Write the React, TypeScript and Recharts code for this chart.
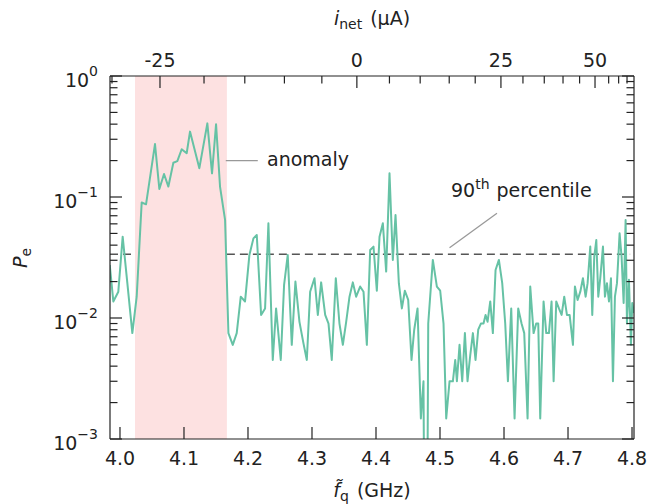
import {
  ComposedChart,
  Line,
  XAxis,
  YAxis,
  ReferenceArea,
  ReferenceLine,
} from "recharts";

// qubit frequency (GHz) and error probability
const freqGHz = [
  3.984, 3.9896, 3.9974, 4.0042, 4.0115, 4.0193, 4.0261, 4.0339, 4.0407, 4.0547,
  4.0615, 4.0688, 4.0756, 4.0834, 4.0896, 4.0964, 4.1042, 4.1094, 4.124, 4.1365,
  4.1438, 4.1501, 4.1563, 4.1642, 4.1694, 4.1762, 4.1824, 4.1887, 4.1954, 4.2022,
  4.2085, 4.2137, 4.2205, 4.2267, 4.2319, 4.2387, 4.2439, 4.2512, 4.2564, 4.2621,
  4.2684, 4.2741, 4.2804, 4.2866, 4.2919, 4.2971, 4.3039, 4.3091, 4.3143, 4.3206,
  4.3258, 4.3309, 4.3372, 4.3429, 4.3482, 4.3534, 4.3586, 4.3638, 4.369, 4.3752,
  4.3805, 4.3857, 4.3909, 4.3961, 4.4013, 4.4055, 4.4107, 4.4159, 4.4211, 4.4263,
  4.4305, 4.4357, 4.4404, 4.4451, 4.4503, 4.4555, 4.4597, 4.4649, 4.4701, 4.4742,
  4.478, 4.4816, 4.4888, 4.4951, 4.5003, 4.5055, 4.5097, 4.5149, 4.5201, 4.5238,
  4.5264, 4.5305, 4.5347, 4.5389, 4.543, 4.5472, 4.5514, 4.5555, 4.5597, 4.5639,
  4.568, 4.5712, 4.5743, 4.5785, 4.5826, 4.5868, 4.592, 4.5972, 4.6019, 4.6061,
  4.6113, 4.6165, 4.6222, 4.6274, 4.6316, 4.6368, 4.641, 4.6462, 4.6503, 4.6535,
  4.6566, 4.6618, 4.666, 4.6702, 4.6743, 4.6775, 4.6816, 4.6858, 4.69, 4.6941,
  4.6983, 4.7025, 4.7077, 4.7108, 4.715, 4.7192, 4.7233, 4.7275, 4.7306, 4.7348,
  4.7379, 4.741, 4.7442, 4.7473, 4.7504, 4.7546, 4.7577, 4.7608, 4.764, 4.7671,
  4.7702, 4.7733, 4.7765, 4.7806, 4.7837, 4.7869, 4.79, 4.7921, 4.7952, 4.7983,
  4.8004, 4.8031,
];

const pe = [
  0.0274, 0.0137, 0.0165, 0.047, 0.0194, 0.0075, 0.015, 0.09, 0.087, 0.274,
  0.1165, 0.155, 0.122, 0.192, 0.198, 0.248, 0.23, 0.347, 0.173, 0.406,
  0.157, 0.399, 0.122, 0.0646, 0.0075, 0.006, 0.0075, 0.015, 0.0137, 0.0332,
  0.0455, 0.0485, 0.0106, 0.012, 0.0606, 0.0045, 0.012, 0.0045, 0.0188, 0.0332,
  0.006, 0.02, 0.0093, 0.0062, 0.0045, 0.0165, 0.0213, 0.0106, 0.0197, 0.0106,
  0.009, 0.0045, 0.0213, 0.009, 0.006, 0.0093, 0.015, 0.0197, 0.015, 0.0182,
  0.0165, 0.006, 0.0365, 0.0389, 0.0168, 0.047, 0.0606, 0.0242, 0.157, 0.0302,
  0.071, 0.0194, 0.012, 0.0168, 0.0141, 0.0045, 0.008, 0.012, 0.00148, 0.003,
  0.000001, 0.009, 0.0302, 0.0182, 0.0168, 0.009, 0.00148, 0.003, 0.003, 0.0045,
  0.003, 0.006, 0.003, 0.0075, 0.003, 0.0049, 0.0075, 0.0045, 0.008, 0.009,
  0.009, 0.0106, 0.0093, 0.0137, 0.0075, 0.0249, 0.0302, 0.0194, 0.009, 0.003,
  0.012, 0.00148, 0.012, 0.009, 0.0075, 0.00148, 0.0182, 0.0075, 0.009, 0.009,
  0.00148, 0.0137, 0.0075, 0.0075, 0.0137, 0.003, 0.0137, 0.012, 0.0106, 0.015,
  0.0106, 0.0106, 0.006, 0.0182, 0.0141, 0.0165, 0.0213, 0.015, 0.0194, 0.0389,
  0.0106, 0.0321, 0.0441, 0.015, 0.0213, 0.0389, 0.015, 0.0194, 0.0137, 0.0213,
  0.003, 0.015, 0.0194, 0.0501, 0.0321, 0.0133, 0.0646, 0.009, 0.0207, 0.006,
  0.0133, 0.011,
];

const data = freqGHz.map((f, i) => ({ f, p: pe[i] }));

const xDomain = [3.9844, 4.8031];
const xTicks = [4.0, 4.1, 4.2, 4.3, 4.4, 4.5, 4.6, 4.7, 4.8];

// top axis: net current (uA) and where it lands in frequency
const topCurrents = [-30, -25, -20, -15, -10, -5, 0, 5, 10, 15, 20, 25, 30, 35, 40, 45, 50, 55, 60, 65];
const topFreqs = [
  3.9875, 4.0625, 4.1313, 4.195, 4.2569, 4.3154, 4.3701, 4.421, 4.469, 4.5144,
  4.555, 4.5952, 4.6296, 4.6629, 4.6922, 4.7181, 4.7422, 4.7635, 4.7791, 4.7922,
];
const topLabeled = [-25, 0, 25, 50];

const yDecades = [0.001, 0.01, 0.1, 1];
const yExponents = ["−3", "−2", "−1", "0"];
const yTicks: number[] = [];
yDecades.forEach((d, i) => {
  yTicks.push(d);
  if (i < yDecades.length - 1) for (let m = 2; m <= 9; m++) yTicks.push(d * m);
});

const threshold = 0.0336;
const anomalyBand = [4.0235, 4.167];

const ink = "#222";
const font = "DejaVu Sans";

function BottomTick(props: any) {
  const { x, y, payload } = props;
  return (
    <g>
      <line x1={x} x2={x} y1={y} y2={y - 12} stroke={ink} strokeWidth={1.2} />
      <text x={x} y={y + 19} textAnchor="middle" dominantBaseline="central" fontSize={19} fill={ink} fontFamily={font}>
        {payload.value.toFixed(1)}
      </text>
    </g>
  );
}

function TopTick(props: any) {
  const { x, y, payload } = props;
  const cur = topCurrents[topFreqs.indexOf(payload.value)];
  const major = topLabeled.includes(cur);
  return (
    <g>
      <line x1={x} x2={x} y1={y} y2={y + (major ? 12 : 7.5)} stroke={ink} strokeWidth={1.2} />
      {major && (
        <text x={x} y={y - 16} textAnchor="middle" dominantBaseline="central" fontSize={19} fill={ink} fontFamily={font}>
          {String(cur)}
        </text>
      )}
    </g>
  );
}

function LeftTick(props: any) {
  const { x, y, payload } = props;
  const k = yDecades.indexOf(payload.value);
  const major = k >= 0;
  return (
    <g>
      <line x1={x} x2={x + (major ? 12 : 7.5)} y1={y} y2={y} stroke={ink} strokeWidth={1.2} />
      {major && (
        <text x={x - 12} y={y + 4} textAnchor="end" dominantBaseline="central" fontSize={19} fill={ink} fontFamily={font}>
          10
          <tspan dy={-9} fontSize={14}>
            {yExponents[k]}
          </tspan>
        </text>
      )}
    </g>
  );
}

function RightTick(props: any) {
  const { x, y, payload } = props;
  const major = yDecades.indexOf(payload.value) >= 0;
  return <line x1={x} x2={x - (major ? 12 : 7.5)} y1={y} y2={y} stroke={ink} strokeWidth={1.2} />;
}

const textStyle: React.CSSProperties = {
  position: "absolute",
  whiteSpace: "nowrap",
  lineHeight: 1,
  fontSize: 19,
  color: ink,
  fontFamily: font,
};

export default function App() {
  const axisLine = { stroke: ink, strokeWidth: 1.2 };
  return (
    <div style={{ position: "relative", width: 641, height: 496, fontFamily: font }}>
      {/* drop the right body margin so the page box reaches the window's right edge */}
      <style>{"body { margin: 8px 0 0 8px; overflow: hidden; }"}</style>
      <ComposedChart width={641} height={496} data={data} margin={{ top: 0, right: 0, bottom: 0, left: 0 }}>
        <XAxis
          xAxisId="b"
          dataKey="f"
          type="number"
          domain={xDomain}
          allowDataOverflow
          ticks={xTicks}
          interval={0}
          height={65}
          tickSize={0}
          tickMargin={0}
          tickLine={false}
          axisLine={axisLine}
          tick={<BottomTick />}
        />
        <XAxis
          xAxisId="t"
          dataKey="f"
          orientation="top"
          type="number"
          domain={xDomain}
          allowDataOverflow
          ticks={topFreqs}
          interval={0}
          height={68}
          tickSize={0}
          tickMargin={0}
          tickLine={false}
          axisLine={axisLine}
          tick={<TopTick />}
        />
        <YAxis
          yAxisId="l"
          type="number"
          scale="log"
          domain={[0.001, 1]}
          allowDataOverflow
          ticks={yTicks}
          interval={0}
          width={102}
          tickSize={0}
          tickMargin={0}
          tickLine={false}
          axisLine={axisLine}
          tick={<LeftTick />}
        />
        <YAxis
          yAxisId="r"
          orientation="right"
          type="number"
          scale="log"
          domain={[0.001, 1]}
          allowDataOverflow
          ticks={yTicks}
          interval={0}
          width={15}
          tickSize={0}
          tickMargin={0}
          tickLine={false}
          axisLine={axisLine}
          tick={<RightTick />}
        />
        <ReferenceArea
          xAxisId="b"
          yAxisId="l"
          x1={anomalyBand[0]}
          x2={anomalyBand[1]}
          fill="#fde1e1"
          fillOpacity={1}
          stroke="none"
        />
        <ReferenceLine
          xAxisId="b"
          yAxisId="l"
          segment={[
            { x: xDomain[0], y: threshold },
            { x: anomalyBand[0], y: threshold },
          ]}
          stroke="#555"
          strokeWidth={1.5}
          strokeDasharray="8 5"
        />
        <ReferenceLine
          xAxisId="b"
          yAxisId="l"
          segment={[
            { x: anomalyBand[1], y: threshold },
            { x: 4.797, y: threshold },
          ]}
          stroke="#555"
          strokeWidth={1.5}
          strokeDasharray="8 5"
        />
        <ReferenceLine
          xAxisId="b"
          yAxisId="l"
          segment={[
            { x: 4.1653, y: 0.1995 },
            { x: 4.2153, y: 0.1995 },
          ]}
          stroke="#999"
          strokeWidth={1.2}
        />
        <ReferenceLine
          xAxisId="b"
          yAxisId="l"
          segment={[
            { x: 4.5149, y: 0.0381 },
            { x: 4.589, y: 0.0733 },
          ]}
          stroke="#999"
          strokeWidth={1.2}
        />
        <Line
          xAxisId="b"
          yAxisId="l"
          dataKey="p"
          type="linear"
          stroke="#66c2a5"
          strokeWidth={2}
          strokeLinejoin="round"
          dot={false}
          activeDot={false}
          isAnimationActive={false}
        />
      </ComposedChart>

      <div style={{ ...textStyle, left: 364, top: 10, transform: "translate(-50%, -50%)" }}>
        <i>i</i>
        <span style={{ fontSize: 14, position: "relative", top: 4 }}>net</span>
        <span style={{ marginLeft: 8 }}>(μA)</span>
      </div>
      <div style={{ ...textStyle, left: 364, top: 482, transform: "translate(-50%, -50%)" }}>
        <i>f̃</i>
        <span style={{ fontSize: 14, position: "relative", top: 4 }}>q</span>
        <span style={{ marginLeft: 8 }}>(GHz)</span>
      </div>
      <div style={{ ...textStyle, left: 12, top: 250, transform: "translate(-50%, -50%) rotate(-90deg)" }}>
        <i>P</i>
        <span style={{ fontSize: 14, position: "relative", top: 4 }}>e</span>
      </div>
      <div style={{ ...textStyle, left: 259, top: 151, transform: "translateY(-50%)" }}>anomaly</div>
      <div style={{ ...textStyle, left: 443, top: 182, transform: "translateY(-50%)" }}>
        90<span style={{ fontSize: 14, position: "relative", top: -8 }}>th</span>
        <span style={{ marginLeft: 7 }}>percentile</span>
      </div>
    </div>
  );
}
